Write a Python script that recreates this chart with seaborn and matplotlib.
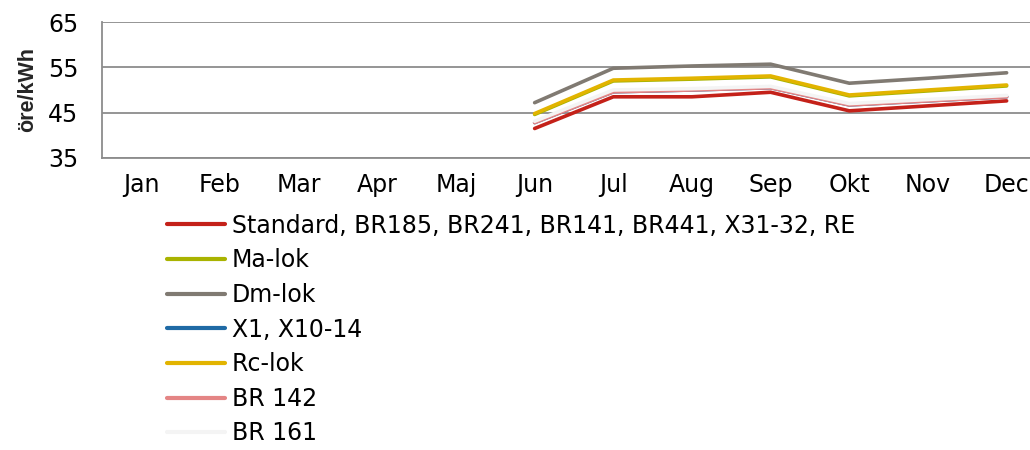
import numpy as np
import pandas as pd
import matplotlib
matplotlib.use("Agg")
import matplotlib.pyplot as plt
import seaborn as sns

months = ["Jan", "Feb", "Mar", "Apr", "Maj", "Jun", "Jul", "Aug", "Sep", "Okt", "Nov", "Dec"]
nan = np.nan

standard = [nan, nan, nan, nan, nan, 41.5, 48.5, 48.5, 49.5, 45.4, 46.5, 47.6]
ma_lok = [nan, nan, nan, nan, nan, 44.6, 52.0, 52.4, 52.9, 48.7, 49.8, 50.9]
dm_lok = [nan, nan, nan, nan, nan, 47.2, 54.8, 55.3, 55.7, 51.5, 52.6, 53.8]
x1 = [nan, nan, nan, nan, nan, 42.8, 49.6, 50.0, 50.5, 46.7, 47.6, 48.5]
rc_lok = [nan, nan, nan, nan, nan, 44.8, 52.2, 52.6, 53.1, 48.9, 50.0, 51.1]
br142 = [nan, nan, nan, nan, nan, 42.8, 49.6, 50.0, 50.5, 46.7, 47.6, 48.5]
br161 = [nan, nan, nan, nan, nan, 43.1, 50.0, 50.3, 50.8, 47.0, 47.9, 48.8]

series_names = ["Standard, BR185, BR241, BR141, BR441, X31-32, RE", "Ma-lok", "Dm-lok",
                "X1, X10-14", "Rc-lok", "BR 142", "BR 161"]
series_values = [standard, ma_lok, dm_lok, x1, rc_lok, br142, br161]
colors = ["#C42119", "#A9B300", "#807A72", "#1F6AA5", "#E2B400", "#E48585", "#F4F4F4"]

rows = []
for name, vals in zip(series_names, series_values):
    for i, v in enumerate(vals):
        if not np.isnan(v):
            rows.append({"month": i, "value": v, "series": name})
df = pd.DataFrame(rows)

sns.set_style("white")
plt.rcParams["font.family"] = ["DejaVu Sans"]
plt.rcParams["text.color"] = "black"
FS = 17

fig = plt.figure(figsize=(10.3, 4.5), dpi=100)
ax = fig.add_axes([0.099, 0.649, 0.9165, 0.302])

sns.lineplot(data=df, x="month", y="value", hue="series", hue_order=series_names,
             palette=colors, linewidth=2.6, ax=ax, legend=False)

ax.set_xlim(-0.5, 11.5)
ax.set_ylim(35, 65)
ax.set_yticks([35, 45, 55, 65])
ax.set_xticks(range(len(months)))
ax.set_xticklabels(months)
ax.tick_params(axis="both", labelsize=FS, length=0, colors="black")
ax.tick_params(axis="x", pad=11)
ax.tick_params(axis="y", pad=17)
ax.grid(axis="y", color="#8C8C8C", linewidth=1.3)
ax.set_axisbelow(True)
for side in ["top", "right"]:
    ax.spines[side].set_visible(False)
for side in ["left", "bottom"]:
    ax.spines[side].set_color("#8C8C8C")
    ax.spines[side].set_linewidth(1.3)
ax.set_xlabel("")
ax.set_ylabel("öre/kWh", fontsize=15.5, fontweight="bold", family=["Liberation Sans", "DejaVu Sans"],
              labelpad=7)

handles = [plt.Line2D([], [], color=c, linewidth=3) for c in colors]
fig.legend(handles, series_names, loc="upper left", bbox_to_anchor=(0.162, 0.525),
           frameon=False, fontsize=FS, handlelength=2.45, handletextpad=0.3,
           labelspacing=0.45, borderaxespad=0, borderpad=0)

fig.savefig("out.png", dpi=100)
